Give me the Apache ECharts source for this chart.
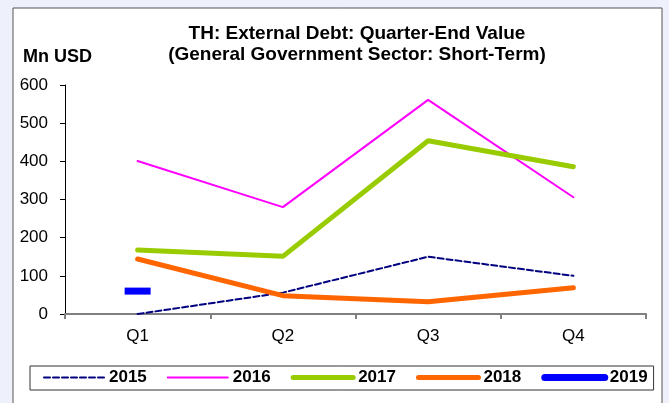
<!DOCTYPE html>
<html>
<head>
<meta charset="utf-8">
<script src="https://cdn.jsdelivr.net/npm/echarts@6/dist/echarts.min.js"></script>
<style>
  html, body { margin: 0; padding: 0; background: #eef1fb; }
  #chart { width: 669px; height: 403px; }
</style>
</head>
<body>
<div id="chart"></div>
<script>
  var quarters = ["Q1", "Q2", "Q3", "Q4"];
  var s2015 = [0, 56, 150, 100];
  var s2016 = [401, 280, 561, 306];
  var s2017 = [168, 151, 454, 386];
  var s2018 = [144, 48, 32, 69];
  var s2019 = [60, null, null, null];
  var yTicks = [0, 100, 200, 300, 400, 500, 600];

  var font = "Arial, 'Liberation Sans', sans-serif";

  function lineSeries(name, data, color, width, type) {
    return {
      name: name,
      type: "line",
      data: data,
      symbol: "none",
      silent: true,
      animation: false,
      lineStyle: { color: color, width: width, type: type || "solid", cap: "round" },
      itemStyle: { color: color }
    };
  }

  var chart = echarts.init(document.getElementById("chart"));
  chart.setOption({
    backgroundColor: "transparent",
    graphic: [
      {
        type: "rect",
        z: -10,
        shape: { x: 13, y: 8, width: 649, height: 410 },
        style: { fill: "#fff", stroke: "#555", lineWidth: 1 }
      },
      {
        type: "text",
        left: 23,
        top: 48,
        style: { text: "Mn USD", font: "bold 18px " + font, fill: "#000" }
      }
    ],
    title: {
      text: "TH: External Debt: Quarter-End Value\n(General Government Sector: Short-Term)",
      left: 352,
      textAlign: "center",
      top: 18,
      textStyle: { fontFamily: font, fontSize: 19, fontWeight: "bold", color: "#000", lineHeight: 21 }
    },
    legend: {
      left: 30,
      top: 366,
      width: 622,
      padding: [3, 6, 4, 13],
      borderColor: "#333",
      borderWidth: 1,
      itemWidth: 60,
      itemHeight: 14,
      itemGap: 20,
      selectedMode: false,
      itemStyle: { opacity: 0 },
      textStyle: { fontFamily: font, fontSize: 17, fontWeight: "bold", color: "#000" },
      data: [
        { name: "2015", lineStyle: { width: 2 } },
        { name: "2016", lineStyle: { width: 2 } },
        { name: "2017", lineStyle: { width: 5 } },
        { name: "2018", lineStyle: { width: 5 } },
        { name: "2019", lineStyle: { width: 7 } }
      ]
    },
    grid: { left: 65, right: 23, top: 85, bottom: 89 },
    xAxis: {
      type: "category",
      data: quarters,
      boundaryGap: true,
      axisLine: { lineStyle: { color: "#808080", width: 2 } },
      axisTick: { show: true, length: 5, lineStyle: { color: "#808080", width: 2 } },
      axisLabel: { fontFamily: font, fontSize: 17, color: "#000", margin: 14 },
      splitLine: { show: false }
    },
    yAxis: {
      type: "value",
      min: yTicks[0],
      max: yTicks[yTicks.length - 1],
      interval: 100,
      axisLine: { show: true, lineStyle: { color: "#000", width: 1 } },
      axisTick: { show: true, length: 5, lineStyle: { color: "#000" } },
      axisLabel: { fontFamily: font, fontSize: 17, color: "#000", margin: 17 },
      splitLine: { show: false }
    },
    series: [
      lineSeries("2015", s2015, "#000080", 2, [6, 3]),
      lineSeries("2016", s2016, "#ff00ff", 2),
      lineSeries("2017", s2017, "#99cc00", 5),
      lineSeries("2018", s2018, "#ff6600", 5),
      {
        name: "2019",
        type: "line",
        data: s2019,
        symbol: "rect",
        symbolSize: [26, 7],
        showSymbol: true,
        silent: true,
        animation: false,
        lineStyle: { color: "#0000ff", width: 7, cap: "round" },
        itemStyle: { color: "#0000ff" }
      }
    ]
  });
</script>
</body>
</html>
